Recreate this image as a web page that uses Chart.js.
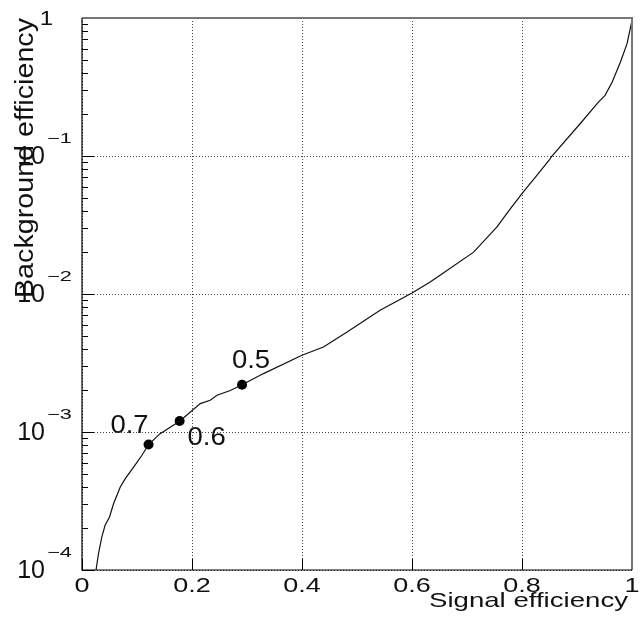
<!DOCTYPE html>
<html>
<head>
<meta charset="utf-8">
<script src="https://cdn.jsdelivr.net/npm/chart.js@4/dist/chart.umd.min.js"></script>
<style>
  html, body { margin: 0; padding: 0; background: #fff; }
  #wrap { width: 644px; height: 622px; }
</style>
</head>
<body>
<div id="wrap"><canvas id="roc" width="644" height="622"></canvas></div>
<script>
// ROC curve: background efficiency vs signal efficiency
const sigEff = [0.0255, 0.030, 0.036, 0.042, 0.050, 0.0575, 0.0696, 0.0787, 0.0938, 0.109,
    0.121, 0.142, 0.1775, 0.215, 0.233, 0.2455, 0.2696, 0.291, 0.330, 0.400,
    0.439, 0.482, 0.542, 0.600, 0.633, 0.651, 0.712, 0.7545, 0.779, 0.802,
    0.827, 0.850, 0.8545, 0.906, 0.939, 0.951, 0.964, 0.979, 0.991, 1.0];
const bkgEff = [1.0e-4, 1.315e-4, 1.73e-4, 2.11e-4, 2.42e-4, 3.03e-4, 3.99e-4, 4.59e-4, 5.57e-4, 6.78e-4,
    8.11e-4, 9.73e-4, 1.197e-3, 1.607e-3, 1.70e-3, 1.845e-3, 2.00e-3, 2.20e-3, 2.65e-3, 3.60e-3,
    4.13e-3, 5.31e-3, 7.62e-3, 1.016e-2, 1.22e-2, 1.368e-2, 2.01e-2, 3.06e-2, 4.16e-2, 5.48e-2,
    7.24e-2, 9.42e-2, 0.1, 0.172, 0.246, 0.275, 0.344, 0.480, 0.652, 0.962];

// working points (cut values)
const wpSig = [0.121, 0.1775, 0.291];
const wpBkg = [8.11e-4, 1.2e-3, 2.2e-3];
const wpLabels = ['0.7', '0.6', '0.5'];

// axis ticks
const xTicks = [0, 0.2, 0.4, 0.6, 0.8, 1];
const xTickLabels = ['0', '0.2', '0.4', '0.6', '0.8', '1'];
const yDecades = [-4, -3, -2, -1, 0];

const FONT = '"Liberation Sans", Arial, sans-serif';
const INK = '#111';

function drawText(ctx, text, x, y, size, align, baseline, sx) {
    ctx.save();
    ctx.font = size + 'px ' + FONT;
    ctx.fillStyle = INK;
    ctx.textAlign = align;
    ctx.textBaseline = baseline;
    ctx.translate(x, y);
    ctx.scale(sx, 1);
    ctx.fillText(text, 0, 0);
    ctx.restore();
}

function fitScale(ctx, text, size, width) {
    ctx.save();
    ctx.font = size + 'px ' + FONT;
    const w = ctx.measureText(text).width;
    ctx.restore();
    return width / w;
}

// offsets of the cut labels from their points (px)
const wpLabelOffsets = [[-19, -12], [27, 24], [9, -17]];

const decorations = {
    id: 'decorations',
    afterDraw(chart) {
        const ctx = chart.ctx;
        const xs = chart.scales.x, ys = chart.scales.y;
        const a = chart.chartArea;

        // tick marks on left axis (log minor + decades) and bottom axis
        ctx.save();
        ctx.strokeStyle = '#000';
        ctx.lineWidth = 1;
        ctx.beginPath();
        yDecades.forEach(d => {
            const py = Math.round(ys.getPixelForValue(Math.pow(10, d))) + 0.5;
            ctx.moveTo(a.left, py); ctx.lineTo(a.left + 12, py);
            if (d < 0) {
                for (let m = 2; m <= 9; m++) {
                    const p = Math.round(ys.getPixelForValue(m * Math.pow(10, d))) + 0.5;
                    ctx.moveTo(a.left, p); ctx.lineTo(a.left + 6, p);
                }
            }
        });
        xTicks.forEach(v => {
            const px = Math.round(xs.getPixelForValue(v)) + 0.5;
            ctx.moveTo(px, a.bottom); ctx.lineTo(px, a.bottom - 11);
        });
        ctx.stroke();

        // frame
        ctx.strokeStyle = '#777';
        ctx.lineWidth = 2;
        ctx.beginPath();
        ctx.moveTo(a.left, a.top); ctx.lineTo(a.right, a.top); ctx.lineTo(a.right, a.bottom);
        ctx.stroke();
        ctx.strokeStyle = '#000';
        ctx.lineWidth = 1.2;
        ctx.beginPath();
        ctx.moveTo(a.left, a.top); ctx.lineTo(a.left, a.bottom); ctx.lineTo(a.right, a.bottom);
        ctx.stroke();
        ctx.restore();

        // x tick labels
        xTicks.forEach((v, i) => {
            drawText(ctx, xTickLabels[i], xs.getPixelForValue(v), a.bottom + 6, 20, 'center', 'top', 1.35);
        });

        // y tick labels 10^n
        yDecades.forEach(d => {
            const py = ys.getPixelForValue(Math.pow(10, d));
            if (d === 0) {
                drawText(ctx, '1', 53, py + 1, 20, 'right', 'middle', 1.2);
            } else {
                drawText(ctx, '10', 45, py + 1, 25, 'right', 'middle', 1.0);
                drawText(ctx, '\u2212' + Math.abs(d), 47, py - 17, 14, 'left', 'middle', 1.55);
            }
        });

        // axis titles
        const t1 = 'Signal efficiency';
        drawText(ctx, t1, 628, 607, 21, 'right', 'alphabetic', fitScale(ctx, t1, 21, 199));
        const t2 = 'Background efficiency';
        ctx.save();
        ctx.translate(33, 18);
        ctx.rotate(-Math.PI / 2);
        drawText(ctx, t2, 0, 0, 25, 'right', 'alphabetic', fitScale(ctx, t2, 25, 280));
        ctx.restore();

        // cut labels next to working points
        const meta = chart.getDatasetMeta(1);
        meta.data.forEach((pt, i) => {
            const [dx, dy] = wpLabelOffsets[i];
            drawText(ctx, wpLabels[i], pt.x + dx, pt.y + dy, 25, 'center', 'alphabetic', 1.1);
        });
    }
};

new Chart(document.getElementById('roc'), {
    type: 'scatter',
    data: {
        datasets: [{
            data: sigEff.map((x, i) => ({ x, y: bkgEff[i] })),
            showLine: true,
            borderColor: '#111',
            borderWidth: 1.2,
            pointRadius: 0,
            tension: 0,
        }, {
            data: wpSig.map((x, i) => ({ x, y: wpBkg[i] })),
            showLine: false,
            pointRadius: 5,
            pointBackgroundColor: '#000',
            pointBorderColor: '#000',
            pointBorderWidth: 0,
        }]
    },
    options: {
        responsive: false,
        devicePixelRatio: 1,
        animation: false,
        events: [],
        layout: { padding: { left: 82, top: 18, right: 12, bottom: 52 } },
        plugins: { legend: { display: false }, tooltip: { enabled: false } },
        scales: {
            x: {
                type: 'linear',
                min: 0, max: 1,
                afterBuildTicks(scale) { scale.ticks = xTicks.map(v => ({ value: v })); },
                ticks: { display: false },
                grid: { color: '#444', lineWidth: 1, drawTicks: false },
                border: { display: false, dash: [1, 2] },
            },
            y: {
                type: 'logarithmic',
                min: 1e-4, max: 1,
                afterBuildTicks(scale) { scale.ticks = yDecades.map(d => ({ value: Math.pow(10, d) })); },
                ticks: { display: false },
                grid: { color: '#444', lineWidth: 1, drawTicks: false },
                border: { display: false, dash: [1, 2] },
            }
        }
    },
    plugins: [decorations]
});
</script>
</body>
</html>
